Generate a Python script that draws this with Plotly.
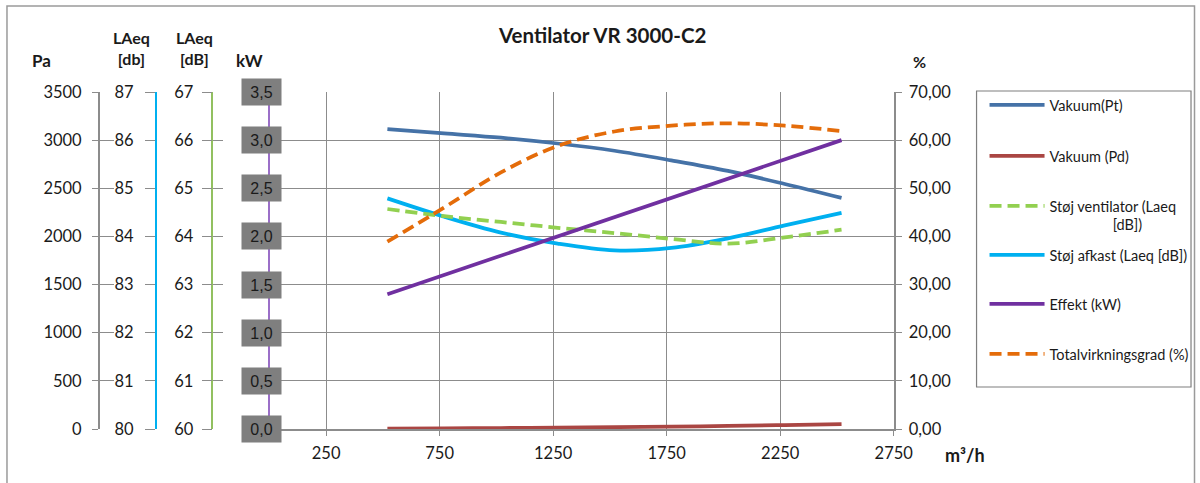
import plotly.graph_objects as go

# ---------------- data ----------------
flow = [520, 770, 1020, 1270, 1520, 1770, 2020, 2270, 2520]          # m³/h
vakuum_pt = [3115, 3070, 3025, 2965, 2890, 2790, 2680, 2545, 2400]   # Pa
vakuum_pd = [3, 6, 10, 14, 19, 25, 32, 41, 51]                      # Pa
stoj_ventilator = [64.57, 64.42, 64.30, 64.18, 64.07, 63.95, 63.85, 63.98, 64.14]  # LAeq [dB]
stoj_afkast = [84.79, 84.41, 84.08, 83.85, 83.71, 83.76, 83.96, 84.23, 84.49]      # LAeq [db]
effekt = [1.40, 1.60, 1.80, 2.00, 2.20, 2.40, 2.60, 2.80, 3.00]     # kW
virkningsgrad = [38.9, 46.0, 53.3, 58.8, 61.8, 63.0, 63.5, 63.0, 61.9]  # %

x_ticks = [250, 750, 1250, 1750, 2250, 2750]
pa_ticks = [0, 500, 1000, 1500, 2000, 2500, 3000, 3500]
db1_ticks = [80, 81, 82, 83, 84, 85, 86, 87]
db2_ticks = [60, 61, 62, 63, 64, 65, 66, 67]
kw_ticks = [0.0, 0.5, 1.0, 1.5, 2.0, 2.5, 3.0, 3.5]
kw_ticklabels = ["0,0", "0,5", "1,0", "1,5", "2,0", "2,5", "3,0", "3,5"]
pct_ticks = [0, 10, 20, 30, 40, 50, 60, 70]

names = ["Vakuum(Pt)", "Vakuum (Pd)", "Støj ventilator (Laeq<br>" + "\u00a0" * 17 + "[dB])",
         "Støj afkast (Laeq [dB])", "Effekt (kW)", "Totalvirkningsgrad (%)"]
colors = ["#4572A7", "#AA4643", "#92D050", "#00B0F0", "#7030A0", "#E46C0A"]

W, H = 1200, 483          # target picture size (positions below are in these pixels)
W_FIG = 1217              # figure width; the viewer squeezes the page horizontally
FONT = "Lato"
TXT = "#1a1a1a"
GRID = "#8c8c8c"

fig = go.Figure()

legend_ids = ["legend", "legend2", "legend3", "legend4", "legend5", "legend6"]

def add(i, y, axis, dash="solid", shape="spline"):
    fig.add_trace(go.Scatter(
        x=flow, y=y, name=names[i], mode="lines", yaxis=axis, legend=legend_ids[i],
        line=dict(color=colors[i], width=3.75, dash=dash, shape=shape, smoothing=1.0)))

add(0, vakuum_pt, "y")
add(1, vakuum_pd, "y")
add(2, stoj_ventilator, "y3", dash="12px,6px")
add(3, stoj_afkast, "y2")
add(4, effekt, "y4", shape="linear")
add(5, virkningsgrad, "y5", dash="12px,6px")

tickfont = dict(family=FONT, size=16.5, color=TXT)
x0p, x1p = 270 / W, 896 / W

def ypx(py):
    return (429 - py) / 337

common_y = dict(showgrid=False, zeroline=False, tickfont=tickfont, ticks="outside",
                tickwidth=1.3, tickcolor=GRID, showline=True, linewidth=1.5,
                anchor="free", overlaying="y", side="left")

fig.update_layout(
    width=W_FIG, height=H, autosize=False,
    margin=dict(l=0, r=0, t=92, b=54),
    paper_bgcolor="white", plot_bgcolor="white",
    separators=",.",
    showlegend=True,
    font=dict(family=FONT, color=TXT),
    xaxis=dict(domain=[x0p, x1p], range=[0, 2750], tickvals=x_ticks,
               showgrid=True, gridcolor=GRID, gridwidth=1.3, zeroline=False,
               showline=True, linecolor=GRID, linewidth=1.5,
               ticks="outside", ticklen=5, tickcolor=GRID, tickwidth=1.3,
               tickfont=tickfont, ticklabelstandoff=3),
    yaxis=dict(range=[0, 3500], tickvals=pa_ticks, showgrid=True, gridcolor=GRID,
               gridwidth=1.3, zeroline=False, tickfont=tickfont, ticks="outside",
               ticklen=6, tickwidth=1.3, tickcolor=GRID, showline=True,
               linecolor=GRID, linewidth=1.5, anchor="free", position=99 / W,
               side="left", ticklabelstandoff=7),
    yaxis2=dict(common_y, range=[80, 87], tickvals=db1_ticks, position=156 / W,
                linecolor="#00B0F0", ticklen=10, ticklabelstandoff=8),
    yaxis3=dict(common_y, range=[60, 67], tickvals=db2_ticks, position=213 / W,
                linecolor="#92C060", ticklen=10, ticklabelstandoff=5),
    yaxis4=dict(common_y, range=[0, 3.5], tickvals=kw_ticks, position=270 / W,
                linecolor="#9B6FC8", ticklen=9, showticklabels=False),
    yaxis5=dict(range=[0, 70], tickvals=pct_ticks, tickformat=".2f", overlaying="y",
                side="right", anchor="x", showgrid=False, zeroline=False,
                tickfont=tickfont, ticks="outside", ticklen=6, tickwidth=1.3,
                tickcolor=GRID, showline=True, linecolor=GRID, linewidth=1.5,
                ticklabelstandoff=4),
    yaxis6=dict(range=[0, 3500], tickvals=pa_ticks, overlaying="y", anchor="free",
                position=99 / W, side="left", ticks="inside", ticklen=14,
                tickwidth=1.3, tickcolor=GRID, showticklabels=False, showgrid=False,
                zeroline=False, showline=False),
    yaxis7=dict(range=[60, 67], tickvals=db2_ticks, overlaying="y", anchor="free",
                position=213 / W, side="left", ticks="inside", ticklen=10,
                tickwidth=1.3, tickcolor=GRID, showticklabels=False, showgrid=False,
                zeroline=False, showline=False),
)

# one legend per entry so that each row sits where the reference has it
legend_rows = [105, 156, 206, 255, 304, 354]
for lid, row in zip(legend_ids, legend_rows):
    fig.update_layout({lid: dict(x=987 / W, y=ypx(row - 16), xanchor="left", yanchor="top",
                                 bgcolor="rgba(0,0,0,0)", borderwidth=0,
                                 font=dict(family=FONT, size=14.5, color=TXT),
                                 itemwidth=55, valign="top")})

# dummy traces so the cross-tick axes are drawn
fig.add_trace(go.Scatter(x=[], y=[], yaxis="y6", showlegend=False, hoverinfo="skip"))
fig.add_trace(go.Scatter(x=[], y=[], yaxis="y7", showlegend=False, hoverinfo="skip"))

# kW tick labels in grey boxes
for v, lab in zip(kw_ticks, kw_ticklabels):
    fig.add_annotation(x=242 / W, xref="paper", y=v, yref="y4", text=lab,
                       showarrow=False, bgcolor="#7f7f7f", width=37, height=24,
                       font=dict(family="Liberation Sans", size=16, color="#1a1a1a"))

def ann(text, px, py, size=16, bold=True, xanchor="center"):
    fig.add_annotation(x=px / W, y=ypx(py), xref="paper", yref="paper",
                       text=("<b>%s</b>" % text) if bold else text, showarrow=False,
                       xanchor=xanchor, yanchor="middle",
                       font=dict(family=FONT, size=size, color=TXT))

ann("Ventilator VR 3000-C2", 604, 35, size=20.5)
ann("Pa", 42, 60, size=17)
ann("LAeq<br>[db]", 132, 48)
ann("LAeq<br>[dB]", 195, 48)
ann("kW", 250, 60, size=17)
ann("%", 922, 61)
ann("m³/h", 967, 455, size=18)

# outer frame and legend frame
fig.add_shape(type="rect", xref="paper", yref="paper", x0=7 / W, x1=1197.5 / W,
              y0=ypx(495), y1=ypx(6), line=dict(color="#9a9a9a", width=1.5))
fig.add_shape(type="rect", xref="paper", yref="paper", x0=979 / W, x1=1194 / W,
              y0=ypx(387), y1=ypx(91), line=dict(color="#7f7f7f", width=1.2))

post = (
    "document.documentElement.style.margin='0px';"
    "document.body.style.margin='0px';"
)

fig.write_html("out.html", config={"displayModeBar": False, "responsive": False},
               post_script=post)
